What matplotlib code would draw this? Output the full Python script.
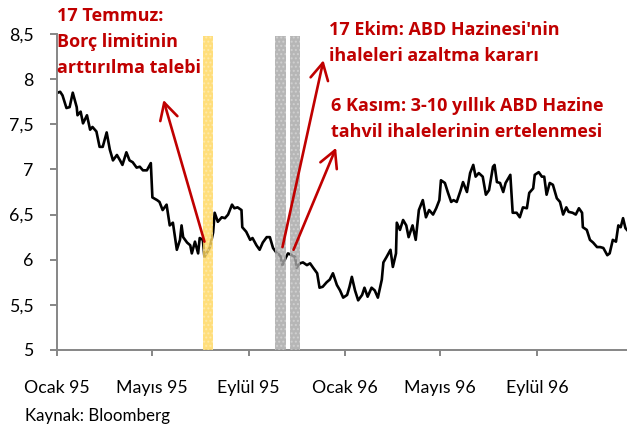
import pandas as pd
import matplotlib
matplotlib.use("Agg")
import matplotlib.pyplot as plt
from matplotlib.colors import to_rgba

# 10 year US Treasury yield, 1995-1996
dates = [
    '1995-01-02', '1995-01-05', '1995-01-08', '1995-01-13', '1995-01-17', '1995-01-21',
    '1995-01-26', '1995-01-27', '1995-01-31', '1995-02-03', '1995-02-08', '1995-02-12',
    '1995-02-15', '1995-02-20', '1995-02-24', '1995-02-28', '1995-03-05', '1995-03-09',
    '1995-03-13', '1995-03-18', '1995-03-22', '1995-03-25', '1995-03-30', '1995-04-03',
    '1995-04-07', '1995-04-12', '1995-04-16', '1995-04-20', '1995-04-25', '1995-04-30',
    '1995-05-02', '1995-05-08', '1995-05-11', '1995-05-15', '1995-05-20', '1995-05-24',
    '1995-05-28', '1995-06-02', '1995-06-06', '1995-06-08', '1995-06-10', '1995-06-15',
    '1995-06-19', '1995-06-21', '1995-06-25', '1995-06-29', '1995-07-01', '1995-07-05',
    '1995-07-07', '1995-07-11', '1995-07-14', '1995-07-16', '1995-07-18', '1995-07-20',
    '1995-07-24', '1995-07-29', '1995-08-02', '1995-08-06', '1995-08-11', '1995-08-14',
    '1995-08-18', '1995-08-23', '1995-08-24', '1995-08-29', '1995-09-03', '1995-09-06',
    '1995-09-11', '1995-09-15', '1995-09-19', '1995-09-24', '1995-09-28', '1995-10-02',
    '1995-10-07', '1995-10-11', '1995-10-14', '1995-10-18', '1995-10-21', '1995-10-26',
    '1995-10-30', '1995-11-01', '1995-11-05', '1995-11-09', '1995-11-14', '1995-11-18',
    '1995-11-22', '1995-11-27', '1995-11-30', '1995-12-04', '1995-12-09', '1995-12-13',
    '1995-12-17', '1995-12-22', '1995-12-26', '1995-12-30', '1996-01-04', '1996-01-07',
    '1996-01-10', '1996-01-14', '1996-01-18', '1996-01-23', '1996-01-26', '1996-01-30',
    '1996-02-04', '1996-02-08', '1996-02-12', '1996-02-14', '1996-02-17', '1996-02-19',
    '1996-02-23', '1996-02-28', '1996-03-02', '1996-03-06', '1996-03-07', '1996-03-11',
    '1996-03-15', '1996-03-19', '1996-03-22', '1996-03-27', '1996-03-31', '1996-04-04',
    '1996-04-09', '1996-04-13', '1996-04-17', '1996-04-22', '1996-04-26', '1996-04-30',
    '1996-05-02', '1996-05-07', '1996-05-11', '1996-05-15', '1996-05-18', '1996-05-22',
    '1996-05-27', '1996-05-30', '1996-06-04', '1996-06-08', '1996-06-12', '1996-06-15',
    '1996-06-19', '1996-06-24', '1996-06-28', '1996-07-02', '1996-07-07', '1996-07-09',
    '1996-07-12', '1996-07-16', '1996-07-20', '1996-07-23', '1996-07-29', '1996-08-01',
    '1996-08-06', '1996-08-10', '1996-08-14', '1996-08-19', '1996-08-22', '1996-08-27',
    '1996-08-29', '1996-09-03', '1996-09-07', '1996-09-10', '1996-09-13', '1996-09-17',
    '1996-09-21', '1996-09-26', '1996-09-30', '1996-10-04', '1996-10-08', '1996-10-11',
    '1996-10-16', '1996-10-20', '1996-10-24', '1996-10-28', '1996-10-29', '1996-11-03',
    '1996-11-07', '1996-11-11', '1996-11-16', '1996-11-20', '1996-11-24', '1996-11-29',
    '1996-12-02', '1996-12-06', '1996-12-10', '1996-12-13', '1996-12-16', '1996-12-19',
    '1996-12-22', '1996-12-24',
]
yields = [
    7.85, 7.86, 7.82, 7.68, 7.69, 7.85,
    7.69, 7.60, 7.64, 7.51, 7.60, 7.44,
    7.47, 7.42, 7.25, 7.25, 7.41, 7.22,
    7.10, 7.16, 7.10, 7.05, 7.19, 7.10,
    7.08, 7.02, 7.03, 6.99, 6.99, 7.07,
    6.69, 6.66, 6.64, 6.55, 6.61, 6.38,
    6.41, 6.11, 6.22, 6.38, 6.25, 6.19,
    6.16, 6.07, 6.20, 6.07, 6.24, 6.22,
    6.03, 6.09, 6.14, 6.22, 6.30, 6.52,
    6.42, 6.47, 6.46, 6.50, 6.61, 6.57,
    6.58, 6.55, 6.36, 6.31, 6.22, 6.24,
    6.16, 6.11, 6.19, 6.25, 6.25, 6.13,
    6.07, 6.05, 5.94, 6.02, 6.07, 6.05,
    6.03, 5.91, 5.96, 5.97, 5.94, 5.96,
    5.91, 5.85, 5.69, 5.70, 5.75, 5.78,
    5.85, 5.72, 5.66, 5.58, 5.61, 5.70,
    5.81, 5.66, 5.55, 5.61, 5.69, 5.59,
    5.69, 5.66, 5.58, 5.66, 5.78, 5.97,
    6.03, 6.11, 5.92, 6.07, 6.41, 6.33,
    6.44, 6.38, 6.25, 6.38, 6.22, 6.55,
    6.66, 6.47, 6.55, 6.50, 6.57, 6.66,
    6.88, 6.85, 6.74, 6.64, 6.66, 6.64,
    6.77, 6.86, 6.75, 6.96, 7.05, 6.92,
    6.96, 6.92, 6.72, 6.77, 7.03, 7.05,
    6.86, 6.85, 6.75, 6.85, 6.94, 6.52,
    6.52, 6.47, 6.58, 6.57, 6.74, 6.79,
    6.94, 6.97, 6.92, 6.92, 6.72, 6.85,
    6.83, 6.68, 6.64, 6.50, 6.58, 6.53,
    6.52, 6.50, 6.57, 6.52, 6.36, 6.33,
    6.22, 6.19, 6.14, 6.14, 6.13, 6.05,
    6.07, 6.22, 6.20, 6.38, 6.36, 6.46,
    6.35, 6.33,
]

tick_dates = ['1995-01-01', '1995-05-01', '1995-09-01', '1996-01-01', '1996-05-01', '1996-09-01']
tick_labels = ['Ocak 95', 'Mayıs 95', 'Eylül 95', 'Ocak 96', 'Mayıs 96', 'Eylül 96']
y_ticks = [5, 5.5, 6, 6.5, 7, 7.5, 8, 8.5]
y_labels = ['5', '5,5', '6', '6,5', '7', '7,5', '8', '8,5']

# event windows: (start, end, colour)
bands = [
    ('1995-07-05', '1995-07-18', '#FFD75E'),
    ('1995-10-04', '1995-10-18', '#A6A6A6'),
    ('1995-10-23', '1995-11-05', '#A6A6A6'),
]

# arrows: (tail date, tail value, head date, head value)
arrows = [
    ('1995-07-07', 6.20, '1995-05-16', 7.77),
    ('1995-10-14', 6.14, '1995-12-05', 8.21),
    ('1995-10-28', 6.11, '1995-12-21', 7.24),
]

# annotation text blocks: lines, left px, first baseline px
notes = [
    (['17 Temmuz:', 'Borç limitinin', 'arttırılma talebi'], 57, 21),
    (["17 Ekim: ABD Hazinesi'nin", 'ihaleleri azaltma kararı'], 329, 35),
    (['6 Kasım: 3-10 yıllık ABD Hazine', 'tahvil ihalelerinin ertelenmesi'], 331, 111),
]

RED = '#C00000'
GREY = '#868686'
W, H = 627, 426

plt.rcParams['font.family'] = ['Lato', 'DejaVu Sans']

fig = plt.figure(figsize=(W / 100, H / 100), dpi=100)
ax = fig.add_axes([57 / W, 1 - 350 / H, 1 - 57 / W, (350 - 34) / H])

x = pd.to_datetime(dates)
ax.plot(x, yields, color='black', lw=1.9, zorder=2)

# translucent fill with faint white dots, drawn over the line
for start, end, col in bands:
    ax.axvspan(pd.Timestamp(start), pd.Timestamp(end), ymin=0, ymax=0.995,
               facecolor=to_rgba(col, 0.82), edgecolor=(1, 1, 1, 0.3),
               hatch='....', lw=0, zorder=3)

for t_d, t_v, h_d, h_v in arrows:
    ax.annotate('', xy=(pd.Timestamp(h_d), h_v), xytext=(pd.Timestamp(t_d), t_v),
                arrowprops=dict(arrowstyle='->,head_length=0.6,head_width=0.32', color=RED,
                                lw=1.9, shrinkA=0, shrinkB=0, mutation_scale=20),
                zorder=4)

ax.set_xlim(pd.Timestamp('1995-01-01'), pd.Timestamp('1996-12-24'))
ax.set_ylim(5, 8.5)
ax.set_xticks(pd.to_datetime(tick_dates))
ax.set_xticklabels(tick_labels)
ax.set_yticks(y_ticks)
ax.set_yticklabels(y_labels)

for side in ['top', 'right']:
    ax.spines[side].set_visible(False)
for side in ['left', 'bottom']:
    ax.spines[side].set_color(GREY)
    ax.spines[side].set_linewidth(1.4)
ax.tick_params(axis='x', length=4.5, width=1.4, color=GREY, pad=17, labelsize=12.8)
ax.tick_params(axis='y', length=5, width=1.4, color=GREY, pad=12, labelsize=12.8)

for lines, left, base in notes:
    for i, line in enumerate(lines):
        fig.text(left / W, 1 - (base + 26 * i) / H, line, color=RED, fontsize=13,
                 family=['Open Sans', 'DejaVu Sans'], fontweight='bold',
                 ha='left', va='baseline')

fig.text(25 / W, 1 - 421.5 / H, 'Kaynak: Bloomberg', fontsize=12.2, ha='left', va='baseline')

fig.savefig('out.png', dpi=100)
